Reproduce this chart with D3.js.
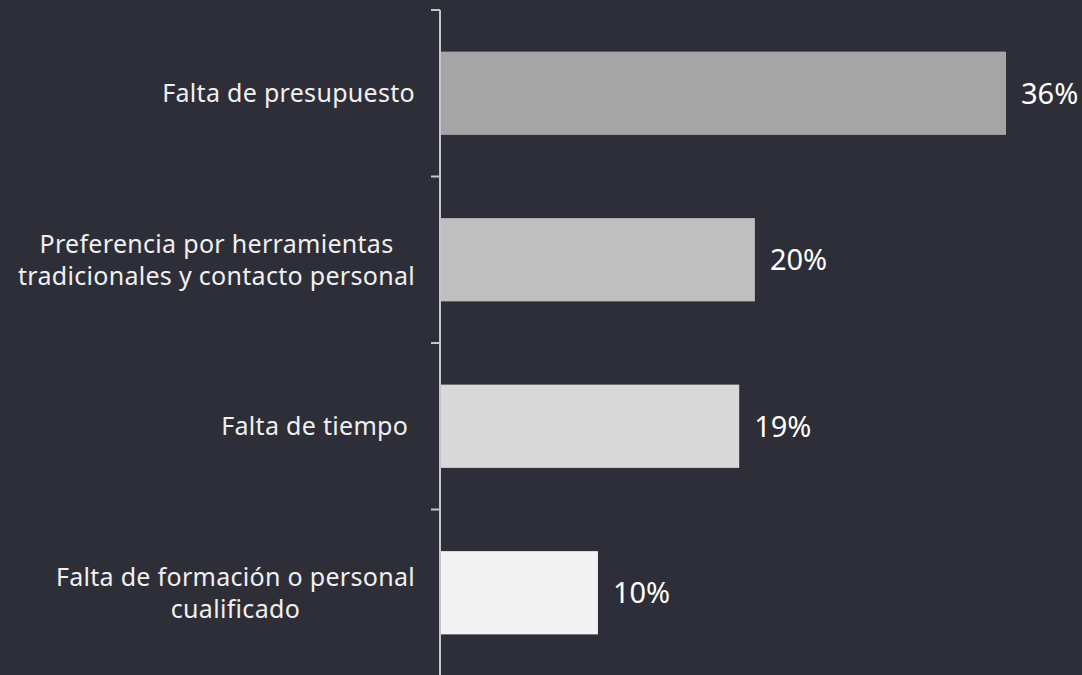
<!DOCTYPE html>
<html><head><meta charset="utf-8">
<script src="https://cdn.jsdelivr.net/npm/d3@7"></script>
<style>html,body{margin:0;padding:0;background:#2e2e38;}svg{display:block;}</style>
</head><body>
<svg id="c" width="1082" height="675"></svg>
<script>
const categories = ["Falta de presupuesto", "Preferencia por herramientas\ntradicionales y contacto personal", "Falta de tiempo ", "Falta de formación o personal\ncualificado"];
const values = [36, 20, 19, 10];
const colors = ["#a5a5a5", "#bfbfbf", "#d9d9d9", "#f2f2f2"];

const W = 1082, H = 675;
const svg = d3.select("#c");
svg.append("rect").attr("width", W).attr("height", H).attr("fill", "#2e2e38");

const x0 = 441;
const x = d3.scaleLinear().domain([0, 36]).range([x0, 1006]);
const y = d3.scaleBand().domain(categories).range([10, 676]).paddingInner(0.5).paddingOuter(0.25);

// axis
const ag = svg.append("g").attr("transform", `translate(${x0 - 1},0)`);
const bounds = categories.map(c => y(c) - y.step() * y.paddingInner() / 2);
bounds.push(676);
ag.append("line").attr("x1", 0).attr("x2", 0).attr("y1", 10).attr("y2", 676)
  .attr("stroke", "#c4c4cd").attr("stroke-width", 2);
ag.selectAll(".bt").data(bounds).enter().append("line")
  .attr("x1", -9).attr("x2", 0).attr("y1", d => d).attr("y2", d => d)
  .attr("stroke", "#c4c4cd").attr("stroke-width", 2);

// bars
svg.selectAll(".bar").data(categories).enter().append("rect")
  .attr("x", x0).attr("y", d => y(d))
  .attr("width", (d, i) => x(values[i]) - x0)
  .attr("height", y.bandwidth())
  .attr("fill", (d, i) => colors[i]);

// value labels
svg.selectAll(".val").data(categories).enter().append("text")
  .attr("x", (d, i) => x(values[i]) + 15)
  .attr("y", d => y(d) + y.bandwidth() / 2)
  .attr("dy", "0.36em")
  .attr("fill", "#ffffff")
  .style("font-family", "'Noto Sans', sans-serif")
  .style("font-size", "29px")
  .text((d, i) => values[i] + "%");

// category labels
const lg = svg.append("g");
categories.forEach((c, i) => {
  const lines = c.split("\n");
  const cy = y(c) + y.bandwidth() / 2;
  const t = lg.append("text")
    .attr("fill", "#f0f0f0")
    .style("font-family", "'Noto Sans', sans-serif")
    .style("font-size", "25px")
    .style("letter-spacing", "0.3px")
    .attr("text-anchor", "middle")
    .attr("xml:space", "preserve");
  const lh = 32;
  const spans = lines.map((l, j) => t.append("tspan").attr("y", cy + (j - (lines.length - 1) / 2) * lh).attr("dy", "0.36em").text(l));
  let maxW = 0;
  spans.forEach(s => { maxW = Math.max(maxW, s.node().getComputedTextLength()); });
  const cx = 415 - maxW / 2;
  spans.forEach(s => s.attr("x", cx));
});
</script>
</body></html>
